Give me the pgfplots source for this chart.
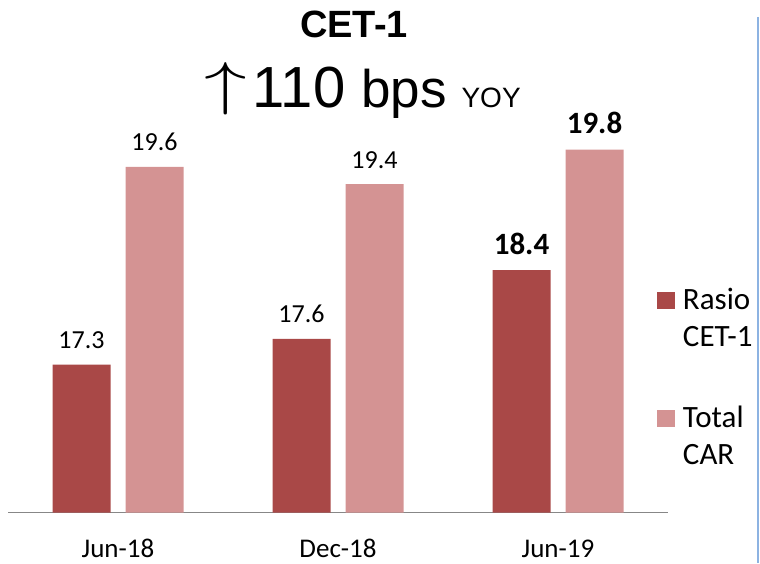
\documentclass[border=0pt]{standalone}
\usepackage{fontspec}
\setmainfont{Carlito}
\newfontfamily\arial{Liberation Sans}
\usepackage{graphicx}
\usepackage{pgfplots}
\pgfplotsset{compat=1.18}
\definecolor{darkred}{HTML}{A94847}
\definecolor{lightred}{HTML}{D49393}
\definecolor{axisgray}{HTML}{878787}
\definecolor{sepblue}{HTML}{8DB3E2}
\begin{document}
\begin{tikzpicture}
\path[use as bounding box] (0,0) rectangle (760pt,563pt);
\begin{axis}[
  at={(8pt,50.5pt)}, anchor=south west, scale only axis,
  width=660pt, height=423pt,
  ymin=15.58, ymax=20.5, xmin=-0.5, xmax=2.5,
  ybar=15pt, bar width=58pt,
  axis y line=none, axis x line*=bottom,
  x axis line style={draw=axisgray, line width=1.3pt, -},
  xtick={0,1,2}, xticklabels={Jun-18,Dec-18,Jun-19},
  xtick style={draw=none},
  xticklabel style={anchor=base, yshift=-41pt, font=\fontsize{27}{32}\selectfont},
  point meta=explicit symbolic,
  nodes near coords,
  every node near coord/.append style={anchor=base, yshift=16pt, font=\fontsize{26}{30}\selectfont, text=black},
  legend style={draw=none, fill=none, at={(0.983,0.53)}, anchor=north west,
    inner sep=0pt, row sep=58pt, column sep=8pt,
    nodes={align=left, inner sep=0pt, font=\fontsize{31}{37}\selectfont}},
  legend cell align=left,
]
\addplot[fill=darkred, draw=none, legend image code/.code={\fill[darkred] (0pt,9pt) rectangle (18pt,26pt);}]
  coordinates {(0,17.3) [17.3] (1,17.6) [17.6] (2,18.4) [{\fontsize{31}{31}\selectfont\bfseries 18.4}]};
\addplot[fill=lightred, draw=none, legend image code/.code={\fill[lightred] (0pt,9pt) rectangle (18pt,26pt);}]
  coordinates {(0,19.6) [19.6] (1,19.4) [19.4] (2,19.8) [{\fontsize{31}{31}\selectfont\bfseries 19.8}]};
\legend{{Rasio\\CET-1},{Total\\CAR}}
\end{axis}
\draw[sepblue, line width=1.5pt] (758pt,546pt) -- (758pt,0pt);
\node[anchor=base, inner sep=0pt, font=\arial\bfseries\fontsize{38}{38}\selectfont] at (354pt,525pt) {CET-1};
\node[anchor=base, inner sep=0pt] at (362.5pt,455pt) {\raisebox{4pt}{\scalebox{8.5}[5.9]{$\uparrow$}}\hspace{6pt}{\arial\fontsize{58}{58}\selectfont 110 }{\arial\fontsize{53}{53}\selectfont bps }{\arial\fontsize{28}{28}\selectfont YOY}};
\end{tikzpicture}
\end{document}
